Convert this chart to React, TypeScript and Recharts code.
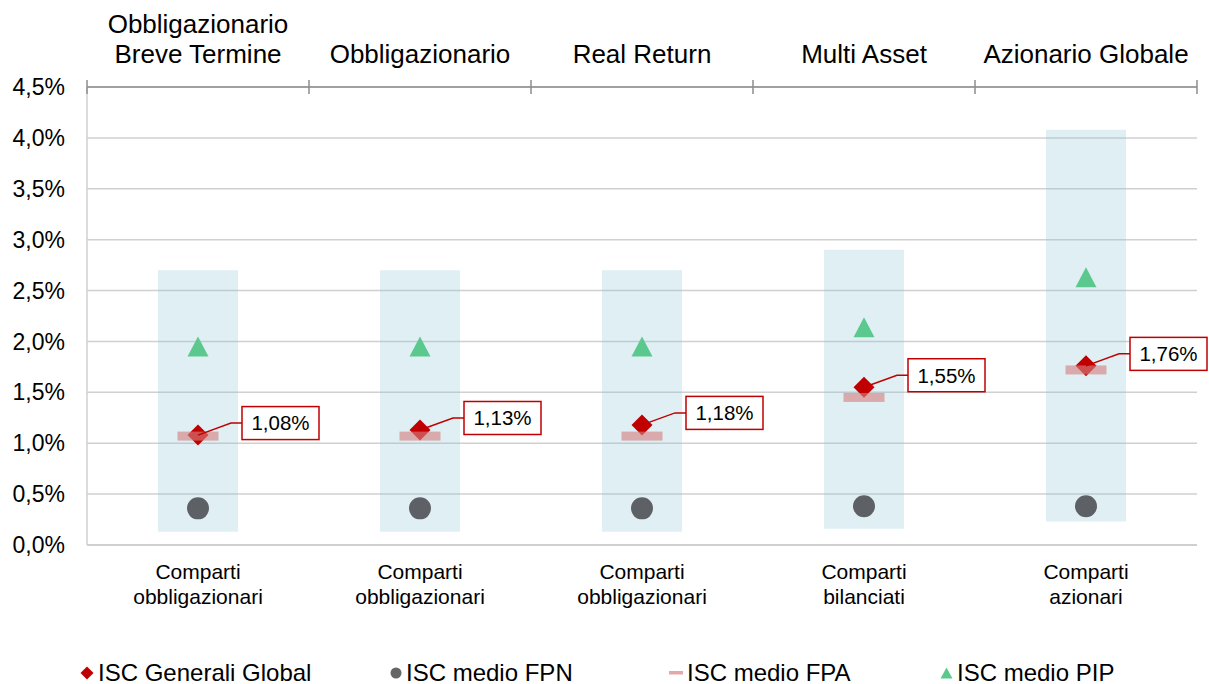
import React from 'react';
import { ComposedChart, Bar, Line, XAxis, YAxis, CartesianGrid, Legend, LabelList } from 'recharts';

const categories = ['Obbligazionario\nBreve Termine', 'Obbligazionario', 'Real Return', 'Multi Asset', 'Azionario Globale'];
const subLabels = ['Comparti\nobbligazionari', 'Comparti\nobbligazionari', 'Comparti\nobbligazionari', 'Comparti\nbilanciati', 'Comparti\nazionari'];
const rangeLow = [0.13, 0.13, 0.13, 0.16, 0.23];
const rangeHigh = [2.7, 2.7, 2.7, 2.9, 4.08];
const iscGenerali = [1.08, 1.13, 1.18, 1.55, 1.76];
const iscFPN = [0.36, 0.36, 0.36, 0.38, 0.38];
const iscFPA = [1.07, 1.07, 1.07, 1.45, 1.72];
const iscPIP = [1.95, 1.95, 1.95, 2.14, 2.63];
const yTicks = [0, 0.5, 1, 1.5, 2, 2.5, 3, 3.5, 4, 4.5];
const legendNames = ['ISC Generali Global', 'ISC medio FPN', 'ISC medio FPA', 'ISC medio PIP'];

const data = categories.map((cat, i) => ({
  cat,
  range: [rangeLow[i], rangeHigh[i]],
  gg: iscGenerali[i],
  fpn: iscFPN[i],
  fpa: iscFPA[i],
  pip: iscPIP[i],
}));

const W = 1209;
const H = 684;
const Y_AXIS_W = 87;
const TOP_H = 87;
const BOTTOM_H = 101;
const LEGEND_H = 38;
const RIGHT = 12;
const BAND = (W - RIGHT - Y_AXIS_W) / categories.length;

const RED = '#c00000';
const GREEN = '#5bc98e';
const GREY_DOT = '#5d6064';
const AXIS_DARK = '#8c8c8c';
const GRID = '#d0d0d0';
const FONT = "'Liberation Sans', Arial, sans-serif";

const fmt = (v: number) => v.toFixed(2).replace('.', ',') + '%';

const TopTick = (props: any) => {
  const { x, y, payload } = props;
  const lines = String(payload.value).split('\n');
  const half = BAND / 2;
  return (
    <g>
      {lines.map((l, i) => (
        <text key={i} x={x} y={y - 24.5 - (lines.length - 1 - i) * 30} textAnchor="middle" fontSize={26} fill="#000" fontFamily={FONT}>
          {l}
        </text>
      ))}
      <line x1={x - half} x2={x - half} y1={y - 7} y2={y + 7} stroke={AXIS_DARK} strokeWidth={1.5} />
      {payload.index === categories.length - 1 && (
        <line x1={x + half} x2={x + half} y1={y - 7} y2={y + 7} stroke={AXIS_DARK} strokeWidth={1.5} />
      )}
    </g>
  );
};

const BottomTick = (props: any) => {
  const { x, y, payload } = props;
  const lines = subLabels[payload.index].split('\n');
  return (
    <g>
      {lines.map((l, i) => (
        <text key={i} x={x} y={y + 34 + i * 24.5} textAnchor="middle" fontSize={21} fill="#000" fontFamily={FONT}>
          {l}
        </text>
      ))}
    </g>
  );
};

const Diamond = (props: any) => {
  const { cx, cy, index } = props;
  if (cx == null || cy == null) return <g key={`dm-${index}`} />;
  const r = 10.5;
  return <path key={`dm-${index}`} d={`M${cx},${cy - r}L${cx + r},${cy}L${cx},${cy + r}L${cx - r},${cy}Z`} fill={RED} />;
};

const FpaMark = (props: any) => {
  const { cx, cy, index } = props;
  if (cx == null || cy == null) return <g key={`fa-${index}`} />;
  return <rect key={`fa-${index}`} x={cx - 20.5} y={cy - 4.5} width={41} height={9} fill="#d58080" fillOpacity={0.62} />;
};

const Circle = (props: any) => {
  const { cx, cy, index } = props;
  if (cx == null || cy == null) return <g key={`ci-${index}`} />;
  return <circle key={`ci-${index}`} cx={cx} cy={cy} r={11} fill={GREY_DOT} />;
};

const Triangle = (props: any) => {
  const { cx, cy, index } = props;
  if (cx == null || cy == null) return <g key={`tr-${index}`} />;
  return <path key={`tr-${index}`} d={`M${cx},${cy - 10}L${cx + 10.5},${cy + 10}L${cx - 10.5},${cy + 10}Z`} fill={GREEN} />;
};

const GGLabel = (props: any) => {
  const x = props.x ?? props.viewBox?.x;
  const y = props.y ?? props.viewBox?.y;
  const { value } = props;
  if (x == null || y == null) return null;
  const bx = x + 44;
  const by = y - 12;
  return (
    <g>
      <polyline points={`${x},${y} ${bx - 11},${by} ${bx},${by}`} fill="none" stroke={RED} strokeWidth={1.5} />
      <rect x={bx} y={by - 16.5} width={77} height={33} fill="#fff" stroke={RED} strokeWidth={1.5} />
      <text x={bx + 38.5} y={by} dy="0.36em" textAnchor="middle" fontSize={20.5} fill="#000" fontFamily={FONT}>
        {fmt(Number(value))}
      </text>
    </g>
  );
};

const legendLefts = [80, 390, 669, 940];

const LegendMarker = ({ i }: { i: number }) => {
  if (i === 0)
    return (
      <svg width={14} height={14} style={{ display: 'block' }}>
        <path d="M7,0.5L13.5,7L7,13.5L0.5,7Z" fill={RED} />
      </svg>
    );
  if (i === 1)
    return (
      <svg width={12} height={12} style={{ display: 'block' }}>
        <circle cx={6} cy={6} r={5.5} fill="#666" />
      </svg>
    );
  if (i === 2)
    return (
      <svg width={14} height={4} style={{ display: 'block' }}>
        <rect x={0} y={0} width={14} height={3.5} fill="#e3a9aa" />
      </svg>
    );
  return (
    <svg width={13} height={12} style={{ display: 'block' }}>
      <path d="M6.5,0.5L12.5,11.5L0.5,11.5Z" fill={GREEN} />
    </svg>
  );
};

const LegendContent = () => (
  <div style={{ position: 'relative', width: W, height: LEGEND_H, fontFamily: FONT, fontSize: 24, color: '#000' }}>
    {legendNames.map((n, i) => (
      <div
        key={n}
        style={{ position: 'absolute', left: legendLefts[i], top: 15, height: 24, display: 'flex', alignItems: 'center', whiteSpace: 'nowrap' }}
      >
        <LegendMarker i={i} />
        <span style={{ marginLeft: 4, lineHeight: '24px' }}>{n}</span>
      </div>
    ))}
  </div>
);

export default function App() {
  return (
    <div style={{ position: 'absolute', left: 0, top: 0, width: W, height: H, background: '#fff', fontFamily: FONT }}>
      <ComposedChart width={W} height={H} data={data} margin={{ top: 0, right: RIGHT, bottom: 0, left: 0 }}>
        <CartesianGrid vertical={false} stroke={GRID} strokeWidth={1.5} />
        <XAxis
          xAxisId="top"
          dataKey="cat"
          orientation="top"
          height={TOP_H}
          interval={0}
          tickSize={0}
          tickMargin={0}
          tickLine={false}
          axisLine={{ stroke: AXIS_DARK, strokeWidth: 1.5 }}
          tick={<TopTick />}
        />
        <XAxis
          xAxisId="bottom"
          dataKey="cat"
          orientation="bottom"
          height={BOTTOM_H}
          interval={0}
          tickSize={0}
          tickMargin={0}
          tickLine={false}
          axisLine={{ stroke: GRID, strokeWidth: 2 }}
          tick={<BottomTick />}
        />
        <YAxis
          width={Y_AXIS_W}
          domain={[0, 4.5]}
          ticks={yTicks}
          interval={0}
          tickSize={0}
          tickMargin={22}
          tickLine={false}
          axisLine={{ stroke: GRID, strokeWidth: 1.5 }}
          tick={{ fill: '#000', fontSize: 23, fontFamily: FONT }}
          tickFormatter={(v: number) => v.toFixed(1).replace('.', ',') + '%'}
        />
        <Legend verticalAlign="bottom" height={LEGEND_H} content={<LegendContent />} wrapperStyle={{ left: 0, width: W, height: LEGEND_H }} />
        <Bar xAxisId="top" dataKey="range" barSize={80} fill="#8ec5d8" fillOpacity={0.27} isAnimationActive={false} legendType="none" />
        <Line xAxisId="top" dataKey="pip" stroke="none" dot={Triangle} activeDot={false} isAnimationActive={false} legendType="none" />
        <Line xAxisId="top" dataKey="fpn" stroke="none" dot={Circle} activeDot={false} isAnimationActive={false} legendType="none" />
        <Line xAxisId="top" dataKey="gg" stroke="none" dot={Diamond} activeDot={false} isAnimationActive={false} legendType="none" />
        <Line xAxisId="top" dataKey="fpa" stroke="none" dot={FpaMark} activeDot={false} isAnimationActive={false} legendType="none" />
        <Line xAxisId="top" dataKey="gg" stroke="none" dot={false} activeDot={false} isAnimationActive={false} legendType="none">
          <LabelList dataKey="gg" content={GGLabel} />
        </Line>
      </ComposedChart>
    </div>
  );
}
